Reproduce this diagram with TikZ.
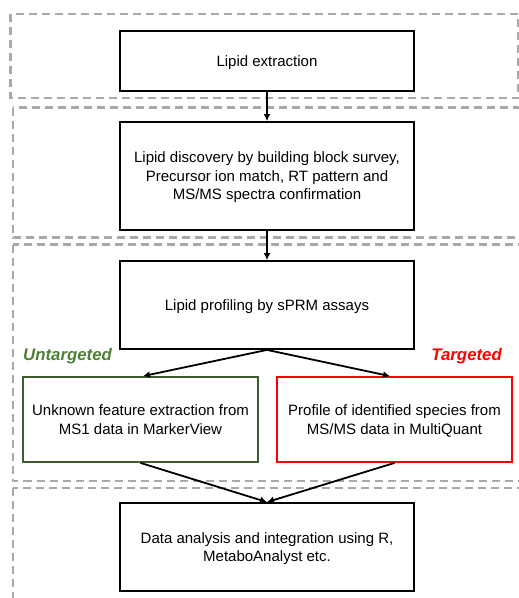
\documentclass[tikz,border=0pt]{standalone}
\usepackage{fontspec}
\setmainfont{Liberation Sans}
\usetikzlibrary{arrows.meta}
\definecolor{panelgray}{HTML}{A9A9A9}
\definecolor{ugreen}{HTML}{4F7F36}
\definecolor{boxgreen}{HTML}{3B5E2B}
\definecolor{tred}{HTML}{FF0000}
\tikzset{
  panel/.style={draw=panelgray, line width=2.6pt, dash pattern=on 8pt off 5pt},
  stepbox/.style={draw=black, line width=1.8pt, fill=white, minimum width=294pt, align=center, font=\fontsize{15}{18.5}\selectfont, inner sep=0pt, text depth=-2pt},
  subbox/.style={draw, line width=1.8pt, fill=white, minimum width=235pt, minimum height=85pt, align=center, font=\fontsize{15}{18.5}\selectfont, inner sep=0pt, text depth=-2pt},
  flow/.style={draw=black, line width=1.8pt, -{Latex[length=7pt,width=7pt]}},
  tag/.style={font=\fontsize{16.8}{20}\selectfont\bfseries\itshape, anchor=west, inner sep=0pt}
}
\begin{document}
\begin{tikzpicture}[x=1pt,y=-1pt]
\useasboundingbox (0,0) rectangle (519,598);
\clip (0,0) rectangle (519,598);
% panels
\draw[panel] (10.5,14) rectangle (518,98);
\draw[panel] (13,107.5) rectangle (540,237.5);
\draw[panel] (13,244.5) rectangle (540,481);
\draw[panel] (13,488) rectangle (540,620);
% boxes
\node[stepbox, minimum height=60pt] (ext) at (267,61) {Lipid extraction};
\node[stepbox, minimum height=108pt] (disc) at (267,176) {Lipid discovery by building block survey,\\Precursor ion match, RT pattern and\\MS/MS spectra confirmation};
\node[stepbox, minimum height=88pt] (prof) at (267,305) {Lipid profiling by sPRM assays};
\node[subbox, draw=boxgreen] (unk) at (140.5,419.5) {Unknown feature extraction from\\MS1 data in MarkerView};
\node[subbox, draw=tred] (ide) at (394.5,419.5) {Profile of identified species from\\MS/MS data in MultiQuant};
\node[stepbox, minimum height=88pt] (ana) at (267,547) {Data analysis and integration using R,\\MetaboAnalyst etc.};
% labels
\node[tag, text=ugreen] (ut) at (23,356) {Untargeted};
\node[tag, text=tred, anchor=east] (tg) at (502,356) {Targeted};
% connectors
\draw[flow] (ext.south) -- (disc.north);
\draw[flow] (disc.south) -- (prof.north);
\draw[flow] (prof.south) -- ([xshift=2.5pt]unk.north);
\draw[flow] (prof.south) -- ([xshift=-4.5pt]ide.north);
\draw[flow] (unk.south) -- (ana.north);
\draw[flow] (ide.south) -- (ana.north);
\end{tikzpicture}
\end{document}
